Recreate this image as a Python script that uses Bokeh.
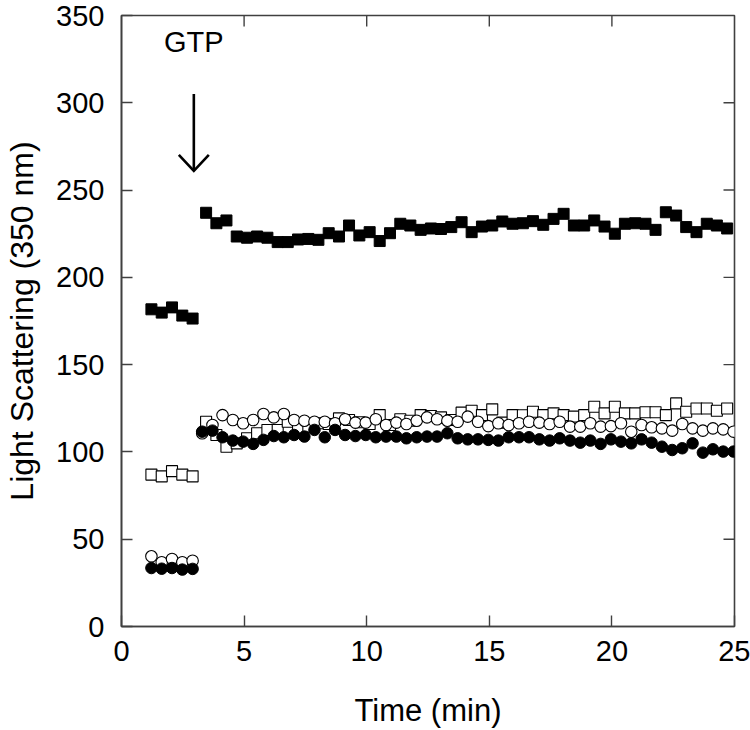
from bokeh.plotting import figure
from bokeh.models import Range1d, Label, FixedTicker
from bokeh.embed import file_html
from bokeh.resources import INLINE

# ---- data ----
t_pre = [1.22, 1.64, 2.06, 2.48, 2.90]
t_sq_post = [3.45, 3.87, 4.28, 4.70, 5.12, 5.53, 5.95, 6.37, 6.78, 7.20, 7.62, 8.03, 8.45,
             8.87, 9.28, 9.70, 10.12, 10.53, 10.95, 11.37, 11.78, 12.20, 12.62, 13.03, 13.45,
             13.87, 14.28, 14.70, 15.12, 15.53, 15.95, 16.37, 16.78, 17.20, 17.62, 18.03,
             18.45, 18.87, 19.28, 19.70, 20.12, 20.53, 20.95, 21.37, 21.78, 22.20, 22.62,
             23.03, 23.45, 23.87, 24.28, 24.70]
t_ci_post = [3.29, 3.71, 4.12, 4.54, 4.96, 5.37, 5.79, 6.21, 6.62, 7.04, 7.46, 7.87, 8.29,
             8.71, 9.12, 9.54, 9.96, 10.37, 10.79, 11.21, 11.62, 12.04, 12.46, 12.87, 13.29,
             13.71, 14.12, 14.54, 14.96, 15.37, 15.79, 16.21, 16.62, 17.04, 17.46, 17.87,
             18.29, 18.71, 19.12, 19.54, 19.96, 20.37, 20.79, 21.21, 21.62, 22.04, 22.46,
             22.87, 23.29, 23.71, 24.12, 24.54, 24.96]

filled_sq_pre = [181.7, 179.8, 182.8, 178.1, 176.4]
filled_sq_post = [237, 231, 232.6, 223.4, 222.7, 223.4, 222.7, 220.2, 220.2, 221.7, 222, 221.5,
                  225.3, 223.4, 229.7, 224, 225.9, 220.8, 225.3, 230.7, 229.7, 227.2, 228, 227.7,
                  228.8, 231.6, 225.9, 229.1, 229.7, 232, 230.7, 231, 232.2, 230.1, 233.5, 236.4,
                  229.7, 229.7, 232.6, 229.1, 225, 230.7, 231, 230.7, 227.2, 237.3, 235.4, 228.8,
                  225.9, 230.7, 229.7, 228]

open_sq_pre = [87, 86, 89, 87, 86]
open_sq_post = [117.3, 109.7, 103, 104.9, 107.8, 110.7, 112.6, 112.6, 117.3, 113.5, 114.5, 116.4,
                116, 119.2, 118.3, 117, 116, 121.1, 115.4, 118.7, 117.9, 121.1, 120.6, 119.8,
                118.3, 122.5, 123.6, 121.1, 124.4, 116.8, 121.1, 121, 123.0, 121.1, 122.1, 121.1,
                120.2, 121.1, 125.9, 122.1, 125.9, 122.1, 122.1, 122.7, 122.7, 121.1, 127.8, 123.0,
                124.9, 124.9, 123.6, 124.9]

open_ci_pre = [40.2, 36.8, 38.7, 36.8, 37.7]
open_ci_post = [110.7, 115.4, 121.1, 118.3, 116.4, 118.3, 121.7, 119.8, 121.7, 118.3, 117.9, 117.3,
                117.3, 116.4, 118.7, 116.8, 116.8, 118.7, 115.4, 116.8, 116, 117.9, 119.8, 118.7,
                117.9, 117.3, 120.2, 117.3, 114.8, 116.4, 115.4, 116.4, 117.3, 116.8, 116, 117.3,
                114.5, 114.5, 116.4, 114.5, 114.8, 116.4, 111.6, 115.4, 114.1, 113.5, 112.2, 116,
                113.5, 112.2, 113.5, 112.9, 111.6]

filled_ci_pre = [33.5, 33.1, 33.5, 32.6, 33.0]
filled_ci_post = [111.6, 112.2, 108.4, 106.5, 105.9, 104.6, 106.9, 109.1, 108.4, 109.7, 108.8, 112.6,
                  108.4, 112.6, 109.7, 109.1, 109.7, 108.4, 108.8, 108.8, 107.8, 108.4, 108.8, 108.8,
                  110.7, 107.8, 107.2, 107.2, 106.9, 106.5, 108.4, 108.4, 108.4, 107.2, 106.5, 107.8,
                  106.5, 105.3, 106.5, 104.6, 107.2, 105.9, 104.9, 107.2, 105.3, 103.0, 101.1, 102.1,
                  104.9, 99.6, 101.5, 100.2, 100.2]

x_ticks = [0, 5, 10, 15, 20, 25]
y_ticks = [0, 50, 100, 150, 200, 250, 300, 350]
X_MIN, X_MAX, Y_MIN, Y_MAX = 0, 25, 0, 350
gtp_time = 2.95
gtp_arrow_from, gtp_arrow_to, gtp_label_y = 305, 261, 335

FONT = "Liberation Sans"
AX_COLOR = "#404040"
TICK_PX = 11

W, H = 750, 730
BL, BR, BT, BB = 121, 16, 15, 103

p = figure(width=W, height=H, output_backend="svg", toolbar_location=None,
           x_range=Range1d(X_MIN, X_MAX), y_range=Range1d(Y_MIN, Y_MAX),
           min_border_left=BL, min_border_right=BR, min_border_top=BT, min_border_bottom=BB)
p.outline_line_color = AX_COLOR
p.outline_line_width = 1.6
p.outline_line_alpha = 1.0
p.xgrid.visible = False
p.ygrid.visible = False
p.background_fill_color = "white"

for ax, ticks in ((p.xaxis[0], x_ticks), (p.yaxis[0], y_ticks)):
    ax.ticker = FixedTicker(ticks=ticks)
    ax.major_tick_in = TICK_PX
    ax.major_tick_out = 0
    ax.minor_tick_line_color = None
    ax.axis_line_color = AX_COLOR
    ax.axis_line_width = 1.6
    ax.major_tick_line_color = AX_COLOR
    ax.major_tick_line_width = 1.4
    ax.major_label_text_font = FONT
    ax.major_label_text_font_size = "29px"
    ax.major_label_text_color = "black"
    ax.axis_label_text_font = FONT
    ax.axis_label_text_font_style = "normal"
    ax.axis_label_text_color = "black"

p.xaxis[0].axis_label_text_font_size = "31px"
p.yaxis[0].axis_label_text_font_size = "32px"
p.xaxis[0].major_label_standoff = 14
p.yaxis[0].major_label_standoff = 17
p.xaxis[0].axis_label = "Time (min)"
p.yaxis[0].axis_label = "Light Scattering (350 nm)"
p.xaxis[0].axis_label_standoff = 29
p.yaxis[0].axis_label_standoff = 13

# inward ticks on the top and right edges of the frame (mirror ticks)
plot_w = W - BL - BR
plot_h = H - BT - BB
dx_tick = TICK_PX * (X_MAX - X_MIN) / plot_w
dy_tick = TICK_PX * (Y_MAX - Y_MIN) / plot_h
top_ticks = [t for t in x_ticks if X_MIN < t < X_MAX]
right_ticks = [t for t in y_ticks if Y_MIN < t < Y_MAX]
p.segment(x0=top_ticks, y0=[Y_MAX] * len(top_ticks), x1=top_ticks,
          y1=[Y_MAX - dy_tick] * len(top_ticks), line_color=AX_COLOR, line_width=1.4)
p.segment(x0=[X_MAX] * len(right_ticks), y0=right_ticks, x1=[X_MAX - dx_tick] * len(right_ticks),
          y1=right_ticks, line_color=AX_COLOR, line_width=1.4)

# series
p.scatter(t_pre + t_sq_post, open_sq_pre + open_sq_post, marker="square", size=11,
          fill_color="white", line_color="black", line_width=1.1)
p.scatter(t_pre + t_ci_post, open_ci_pre + open_ci_post, marker="circle", size=11.5,
          fill_color="white", line_color="black", line_width=1.1)
p.scatter(t_pre + t_ci_post, filled_ci_pre + filled_ci_post, marker="circle", size=11.5,
          fill_color="black", line_color="black", line_width=1)
p.scatter(t_pre + t_sq_post, filled_sq_pre + filled_sq_post, marker="square", size=11,
          fill_color="black", line_color="black", line_width=1)

# GTP annotation: shaft plus an open "V" head (head half-width 15 px, depth 16 px)
head_dx = 15 * (X_MAX - X_MIN) / plot_w
head_dy = 16 * (Y_MAX - Y_MIN) / plot_h
p.segment(x0=[gtp_time], y0=[gtp_arrow_from], x1=[gtp_time], y1=[gtp_arrow_to],
          line_color="black", line_width=2.6)
p.multi_line(xs=[[gtp_time - head_dx, gtp_time, gtp_time + head_dx]],
             ys=[[gtp_arrow_to + head_dy, gtp_arrow_to, gtp_arrow_to + head_dy]],
             line_color="black", line_width=2.6, line_join="miter")
p.add_layout(Label(x=gtp_time, y=gtp_label_y, text="GTP", text_align="center",
                   text_baseline="middle", text_font=FONT, text_font_size="29px",
                   text_color="black"))

open("out.html", "w").write(file_html(p, INLINE))
